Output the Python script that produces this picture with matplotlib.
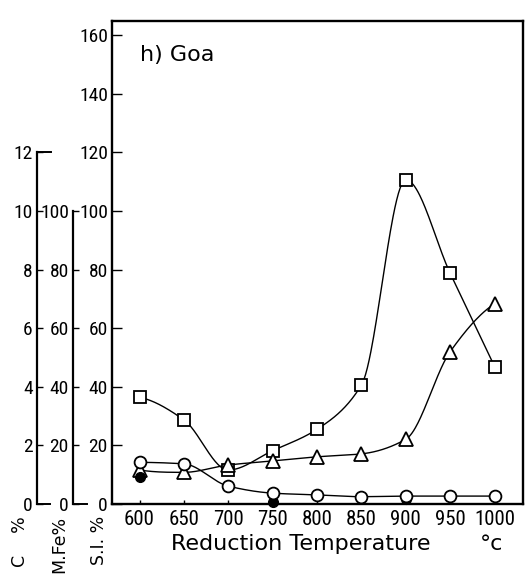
import numpy as np
import matplotlib
matplotlib.use("Agg")
import matplotlib.pyplot as plt
import matplotlib.transforms as mtransforms
from matplotlib import font_manager

# Reduction temperatures (deg C)
temps = [600, 650, 700, 750, 800, 850, 900, 950, 1000]

# Swelling index S.I. % (open squares)
si_pct = [36.4, 28.7, 11.6, 18.2, 25.5, 40.6, 110.6, 78.7, 46.9]
# Metallic iron M.Fe % (open triangles)
mfe_pct = [11.6, 10.8, 13.3, 14.7, 16.1, 17.1, 22.1, 52.0, 68.3]
# Carbon C % (open circles)
c_pct = [1.42, 1.37, 0.61, 0.37, 0.31, 0.25, 0.27, 0.27, 0.27]
# Carbon, single determinations (filled circles)
c_extra_temps = [600, 750, 900]
c_extra_pct = [0.92, 0.08, 0.16]

si_ticks = [0, 20, 40, 60, 80, 100, 120, 140, 160]
mfe_ticks = [0, 20, 40, 60, 80, 100]
c_ticks = [0, 2, 4, 6, 8, 10, 12]

# pick a narrow face for the numbers if one is available
_names = {f.name for f in font_manager.fontManager.ttflist}
_narrow = [n for n in ("Liberation Sans Narrow", "Roboto Condensed",
                       "Open Sans Condensed", "DejaVu Sans Condensed") if n in _names]
TICK_FP = dict(family=_narrow[0]) if _narrow else dict(family="DejaVu Sans", stretch="condensed")
W, H = 526, 574
Y_LAB = 14
X_LAB = 15


def pchip(x, y, xs):
    """Shape-preserving piecewise cubic Hermite curve through (x, y)."""
    x = np.asarray(x, float)
    y = np.asarray(y, float)
    h = np.diff(x)
    d = np.diff(y) / h
    n = len(x)
    m = np.zeros(n)
    for k in range(1, n - 1):
        if d[k - 1] * d[k] > 0:
            w1 = 2 * h[k] + h[k - 1]
            w2 = h[k] + 2 * h[k - 1]
            m[k] = (w1 + w2) / (w1 / d[k - 1] + w2 / d[k])
    for k0, hh0, hh1, dd0, dd1 in [(0, h[0], h[1], d[0], d[1]),
                                   (n - 1, h[-1], h[-2], d[-1], d[-2])]:
        e = ((2 * hh0 + hh1) * dd0 - hh0 * dd1) / (hh0 + hh1)
        if np.sign(e) != np.sign(dd0):
            e = 0.0
        elif np.sign(dd0) != np.sign(dd1) and abs(e) > abs(3 * dd0):
            e = 3 * dd0
        m[k0] = e
    idx = np.clip(np.searchsorted(x, xs) - 1, 0, n - 2)
    t = (xs - x[idx]) / h[idx]
    h00 = 2 * t**3 - 3 * t**2 + 1
    h10 = t**3 - 2 * t**2 + t
    h01 = -2 * t**3 + 3 * t**2
    h11 = t**3 - t**2
    return h00 * y[idx] + h10 * h[idx] * m[idx] + h01 * y[idx + 1] + h11 * h[idx] * m[idx + 1]


fig = plt.figure(figsize=(W / 100, H / 100), dpi=100)

# pixel geometry of the plotting frame
x0, x1 = 112, 523
y_top, y_bot = 21, 504
ymax = 164.8

ax = fig.add_axes([x0 / W, (H - y_bot) / H, (x1 - x0) / W, (y_bot - y_top) / H])
ax.set_xlim(569, 1032)
ax.set_ylim(0, ymax)
ax.set_xticks(temps)
ax.set_yticks(si_ticks)
ax.tick_params(axis="x", direction="in", length=3, width=1, pad=4)
ax.tick_params(axis="y", direction="in", length=7, width=1, pad=3,
               left=True, right=True)
for lab in ax.get_xticklabels():
    lab.set_fontproperties(font_manager.FontProperties(size=X_LAB, **TICK_FP))
for lab in ax.get_yticklabels():
    lab.set_fontproperties(font_manager.FontProperties(size=Y_LAB, **TICK_FP))
for s in ax.spines.values():
    s.set_linewidth(1.7)

# twin axis carrying the carbon scale (C % = one tenth of the main scale)
axc_data = ax.twinx()
axc_data.set_ylim(0, ymax / 10)
axc_data.axis("off")

xs = np.linspace(600, 1000, 400)
line_kw = dict(color="black", lw=1.0)
mk_kw = dict(ls="none", mfc="white", mec="black", mew=1.3, zorder=3)

ax.plot(xs, pchip(temps, si_pct, xs), **line_kw)
ax.plot(xs, pchip(temps, mfe_pct, xs), **line_kw)
axc_data.plot(xs, pchip(temps, c_pct, xs), **line_kw)

axc_data.plot(c_extra_temps, c_extra_pct, "o", color="black", ms=7, zorder=2,
              clip_on=False)
ax.plot(temps, si_pct, marker="s", ms=9, **mk_kw)
ax.plot(temps, mfe_pct, marker="^", ms=10, **mk_kw)
axc_data.plot(temps, c_pct, marker="o", ms=8.5, **mk_kw)

ax.text((140 - x0) / (x1 - x0), 0.93, "h) Goa", transform=ax.transAxes,
        fontsize=16, ha="left", va="center")


def side_axis(xpix, top_val, ticks, ylim_max, foot_px, top_bar_px=0):
    a = fig.add_axes([xpix / W, (H - y_bot) / H, 20 / W, (y_bot - y_top) / H])
    a.patch.set_visible(False)
    a.set_ylim(0, ylim_max)
    a.set_xlim(0, 1)
    for name in ("top", "right", "bottom"):
        a.spines[name].set_visible(False)
    a.spines["left"].set_bounds(0, top_val)
    a.spines["left"].set_linewidth(1.6)
    a.set_xticks([])
    a.set_yticks(ticks)
    a.tick_params(axis="y", direction="in", length=4, width=1, pad=3)
    for lab in a.get_yticklabels():
        lab.set_fontproperties(font_manager.FontProperties(size=Y_LAB, **TICK_FP))
    tr = mtransforms.blended_transform_factory(a.transAxes, a.transData)
    a.plot([0, foot_px / 20], [0, 0], color="black", lw=1.4, transform=tr,
           clip_on=False)
    if top_bar_px:
        a.plot([0, top_bar_px / 20], [top_val, top_val], color="black", lw=1.4,
               transform=tr, clip_on=False)
    return a


side_axis(37, 12, c_ticks, ymax / 10, 13, top_bar_px=14)
side_axis(73, 100, mfe_ticks, ymax, 14)

# axis titles
fig.text(301 / W, 1 - 544 / H, "Reduction Temperature", fontsize=16,
         ha="center", va="center")
fig.text(492 / W, 1 - 544 / H, "°c", fontsize=16, ha="center", va="center")

for xp, txt in [(20, "C    %"), (59, "M.Fe%"), (99, "S.I. %")]:
    fig.text(xp / W, 1 - 516 / H, txt, rotation=90, fontsize=12.5,
             ha="center", va="top")

fig.savefig("out.png", dpi=100)
